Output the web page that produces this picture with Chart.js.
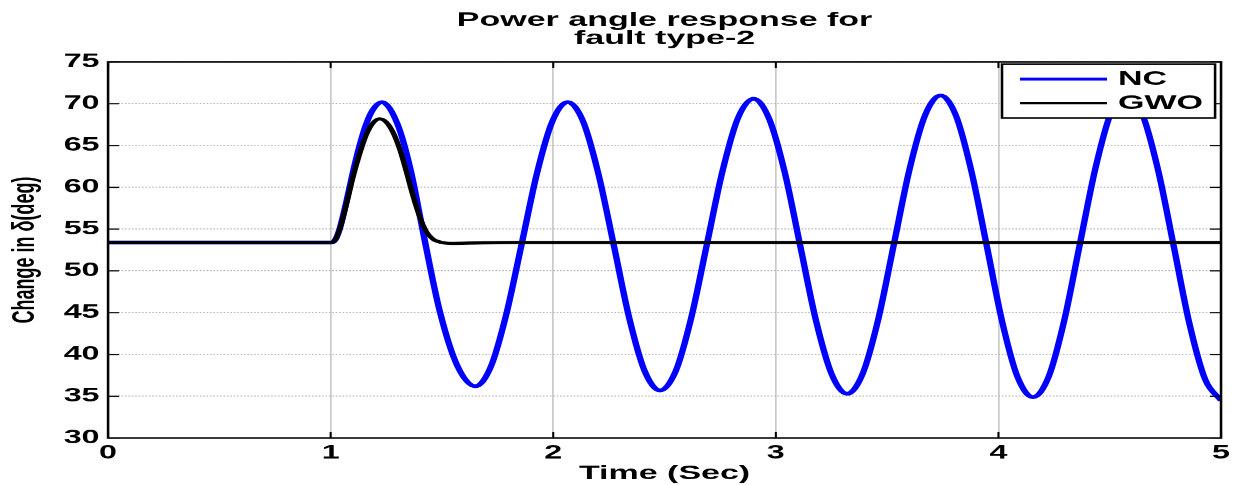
<!DOCTYPE html>
<html>
<head>
<meta charset="utf-8">
<script src="https://cdn.jsdelivr.net/npm/chart.js@4/dist/chart.umd.min.js"></script>
<style>
  html, body { margin: 0; padding: 0; background: #fff; }
  #wrap { width: 1237px; height: 485px; overflow: hidden; }
  canvas { display: block; }
</style>
</head>
<body>
<div id="wrap"><canvas id="c" width="728" height="485"></canvas></div>
<script>
// ---- data ----
const titleLines = ['Power angle response for', 'fault type-2'];
const xAxisLabel = 'Time (Sec)';
const yAxisLabel = 'Change in δ(deg)';
const seriesNames = ['NC', 'GWO'];
const xTickValues = [0, 1, 2, 3, 4, 5];
const yTickValues = [30, 35, 40, 45, 50, 55, 60, 65, 70, 75];

const ncTime = [0, 1.0, 1.02, 1.04, 1.07, 1.10, 1.13, 1.16, 1.19, 1.23,
  1.30, 1.36, 1.42, 1.49, 1.57, 1.65,
  1.719, 1.788, 1.858, 1.927, 1.996, 2.065,
  2.134, 2.203, 2.273, 2.342, 2.411, 2.48,
  2.55, 2.62, 2.69, 2.76, 2.83, 2.90,
  2.97, 3.04, 3.11, 3.18, 3.25, 3.32,
  3.39, 3.46, 3.53, 3.60, 3.67, 3.74,
  3.809, 3.878, 3.948, 4.017, 4.086, 4.155,
  4.225, 4.295, 4.365, 4.435, 4.505, 4.575,
  4.646, 4.717, 4.788, 4.858, 4.929, 5.0];
const ncValue = [53.4, 53.4, 53.7, 55.0, 58.2, 61.8, 65.0, 67.6, 69.3, 70.2,
  67.6, 62.0, 54.0, 45.2, 38.6, 36.2,
  38.5, 44.7, 53.2, 61.7, 67.9, 70.2,
  67.9, 61.6, 52.95, 44.3, 38.0, 35.7,
  38.0, 44.4, 53.15, 61.9, 68.3, 70.6,
  68.2, 61.8, 52.95, 44.1, 37.7, 35.3,
  37.7, 44.2, 53.15, 62.1, 68.6, 71.0,
  68.6, 62.0, 52.95, 43.9, 37.3, 34.9,
  37.3, 44.0, 53.1, 62.2, 68.9, 71.3,
  68.8, 62.1, 52.9, 43.7, 37.0, 34.5];

const gwoTime = [0, 1.0, 1.02, 1.04, 1.07, 1.10, 1.13, 1.16, 1.19, 1.22,
  1.25, 1.28, 1.31, 1.34, 1.37, 1.40, 1.43, 1.46, 1.50, 1.55, 1.65, 1.8, 5.0];
const gwoValue = [53.4, 53.4, 53.7, 54.9, 57.9, 61.2, 64.0, 66.3, 67.7, 68.2,
  67.8, 66.6, 64.6, 61.9, 59.0, 56.5, 54.7, 53.8, 53.4, 53.3, 53.35, 53.4, 53.4];

// ---- chart ----
const FONT = '"Liberation Sans", Arial, Helvetica, sans-serif';
const LOGICAL_W = 728, TARGET_W = 1237;
const STRETCH = TARGET_W / LOGICAL_W;

const toPoints = (t, v) => t.map((x, i) => ({ x: x, y: v[i] }));

const framePlugin = {
  id: 'frameAndLegend',
  afterDatasetsDraw(chart) {
    const { ctx, chartArea: a, scales: { x, y } } = chart;
    ctx.save();
    // box
    ctx.strokeStyle = '#000';
    ctx.lineWidth = 1.5;
    ctx.strokeRect(a.left, a.top, a.right - a.left, a.bottom - a.top);
    // inward ticks on all four sides
    ctx.lineWidth = 1.2;
    ctx.beginPath();
    xTickValues.forEach(v => {
      const px = x.getPixelForValue(v);
      ctx.moveTo(px, a.bottom); ctx.lineTo(px, a.bottom - 6);
      ctx.moveTo(px, a.top); ctx.lineTo(px, a.top + 6);
    });
    yTickValues.forEach(v => {
      const py = y.getPixelForValue(v);
      ctx.moveTo(a.left, py); ctx.lineTo(a.left + 6.5, py);
      ctx.moveTo(a.right, py); ctx.lineTo(a.right - 6.5, py);
    });
    ctx.stroke();

    // legend box (top-right, inside axes)
    const bx = 589.7, by = 64, bw = 125.4, bh = 54;
    ctx.fillStyle = '#fff';
    ctx.fillRect(bx, by, bw, bh);
    ctx.lineWidth = 1.5;
    ctx.strokeStyle = '#000';
    ctx.strokeRect(bx, by, bw, bh);
    const rows = [79, 103];
    chart.data.datasets.forEach((ds, i) => {
      const yy = rows[i];
      ctx.beginPath();
      ctx.strokeStyle = ds.borderColor;
      ctx.lineWidth = i === 0 ? 3 : 2.5;
      ctx.moveTo(600.3, yy); ctx.lineTo(651.5, yy);
      ctx.stroke();
      ctx.fillStyle = '#000';
      ctx.font = 'bold 20px ' + FONT;
      ctx.textAlign = 'left';
      ctx.textBaseline = 'middle';
      ctx.fillText(ds.label, 658, yy + 0.5);
    });
    ctx.restore();
  }
};

const chart = new Chart(document.getElementById('c'), {
  type: 'line',
  data: {
    datasets: [
      {
        label: seriesNames[0],
        data: toPoints(ncTime, ncValue),
        borderColor: '#0000ff',
        borderWidth: 3.8,
        pointRadius: 0,
        cubicInterpolationMode: 'monotone',
        fill: false,
        order: 2
      },
      {
        label: seriesNames[1],
        data: toPoints(gwoTime, gwoValue),
        borderColor: '#000000',
        borderWidth: 3.2,
        pointRadius: 0,
        cubicInterpolationMode: 'monotone',
        fill: false,
        order: 1
      }
    ]
  },
  options: {
    responsive: false,
    animation: false,
    devicePixelRatio: STRETCH,
    layout: { padding: { left: 0, right: 9.4, top: 0, bottom: 0 } },
    plugins: {
      legend: { display: false },
      tooltip: { enabled: false },
      title: {
        display: true,
        fullSize: false,
        text: titleLines,
        color: '#000',
        font: { family: FONT, size: 20, weight: 'bold', lineHeight: 0.92 },
        padding: { top: 11, bottom: 14.2 }
      }
    },
    scales: {
      x: {
        type: 'linear',
        min: 0, max: 5,
        afterBuildTicks: s => { s.ticks = xTickValues.map(v => ({ value: v })); },
        afterFit: s => { s.height = 47; },
        ticks: {
          color: '#000',
          padding: 4,
          maxRotation: 0,
          font: { family: FONT, size: 19, weight: 'bold' }
        },
        grid: { color: '#cacaca', lineWidth: 1, drawTicks: false },
        border: { display: false },
        title: {
          display: true,
          text: xAxisLabel,
          color: '#000',
          font: { family: FONT, size: 20, weight: 'bold', lineHeight: 1 },
          padding: { top: 0, bottom: 1.5 }
        }
      },
      y: {
        min: 30, max: 75,
        afterBuildTicks: s => { s.ticks = yTickValues.map(v => ({ value: v })); },
        afterFit: s => { s.width = 63.6; },
        ticks: {
          color: '#000',
          padding: 5,
          font: { family: FONT, size: 19, weight: 'bold' }
        },
        grid: { color: '#b4b4b4', lineWidth: 1, drawTicks: false },
        border: { display: false, dash: [1, 1] },
        title: {
          display: true,
          text: yAxisLabel,
          color: '#000',
          font: { family: FONT, size: 18, weight: 'bold', lineHeight: 1.2 },
          padding: { top: 4.5, bottom: 0 }
        }
      }
    }
  },
  plugins: [framePlugin]
});

// the reference figure is horizontally stretched; display the logical 728px-wide chart at 1237px
const cv = document.getElementById('c');
cv.style.width = TARGET_W + 'px';
cv.style.height = '485px';
</script>
</body>
</html>
